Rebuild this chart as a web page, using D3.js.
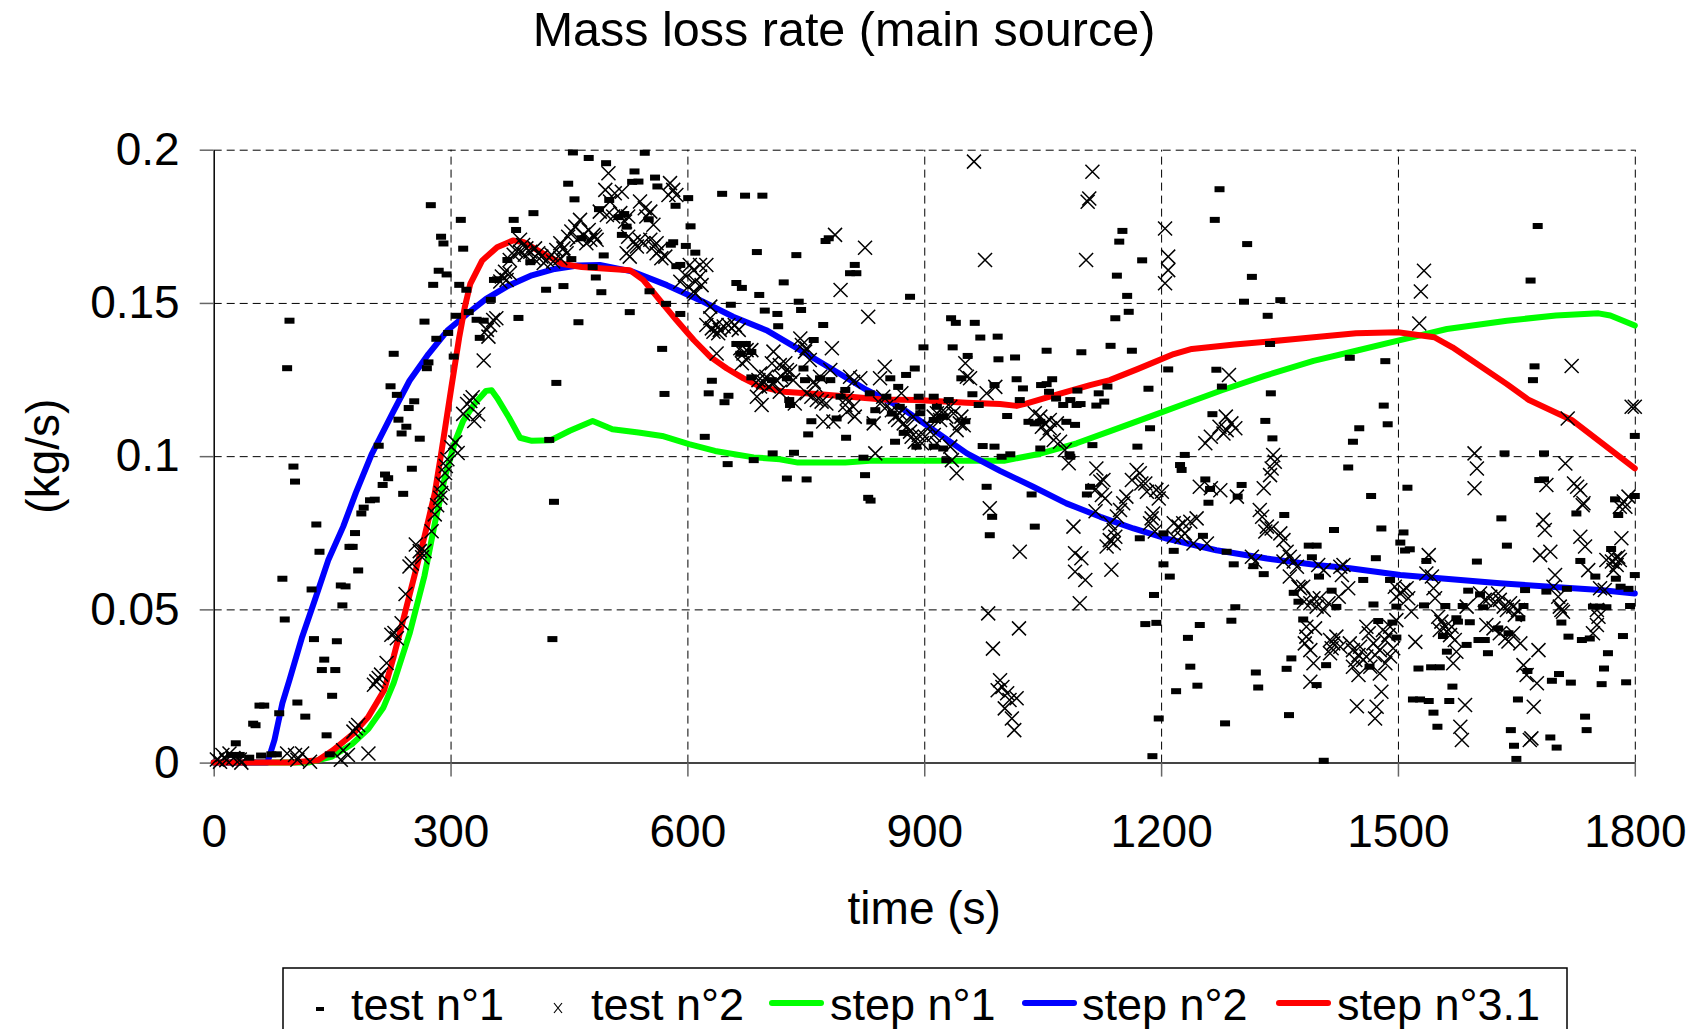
<!DOCTYPE html>
<html>
<head>
<meta charset="utf-8">
<script src="https://cdnjs.cloudflare.com/ajax/libs/d3/7.8.5/d3.min.js"></script>
<style>
  body { margin: 0; background: #fff; }
  text { font-family: "Liberation Sans", Arial, sans-serif; fill: #000; }
</style>
</head>
<body>
<svg id="chart" width="1701" height="1029"></svg>
<script>
// time (s), mass loss rate (kg/s)
const test1 = [
  [22,0.0025],[30,0.0023],[33,0.0025],[45,0.0016],[60,0.0023],[73,0.0027],[80,0.0027],
  [28,0.0063],[50,0.0127],[53,0.0122],[58,0.0186],[64,0.0186],[83,0.0161],[106,0.0196],[116,0.015],
  [90,0.0467],[87,0.06],[101,0.0966],[103,0.0917],[93,0.1287],[96,0.1442],
  [130,0.0777],[134,0.0688],[124,0.0565],[127,0.0403],[140,0.0336],[137,0.0302],[154,0.0302],[150,0.0218],[143,0.0089],[147,0.0027],
  [156,0.0396],[161,0.0578],[167,0.0575],[163,0.0513],[172,0.0704],[176,0.0704],[179,0.0749],[183,0.0627],[187,0.0813],[190,0.0832],
  [198,0.0856],[204,0.0858],[214,0.0906],[217,0.094],[221,0.0928],[240,0.0877],[251,0.0959],
  [275,0.1819],[288,0.1716],[291,0.1694],[285,0.1605],[295,0.1593],[278,0.1559],[267,0.1439],[228,0.1334],[224,0.1228],[232,0.12],
  [254,0.1179],[247,0.1157],[234,0.1119],[244,0.1096],[238,0.1074],[261,0.1057],[209,0.1034],
  [282,0.1383],[272,0.1306],[270,0.1287],[297,0.1402],[304,0.1325],[307,0.1458],[313,0.1771],[316,0.1677],[320,0.1543],[311,0.1559],
  [323,0.147],[333,0.1445],[342,0.1442],[337,0.1386],[351,0.151],[355,0.1575],[359,0.1577],[372,0.164],[380,0.1771],[383,0.1738],
  [405,0.1793],[386,0.1451],[401,0.1633],[421,0.1543],[443,0.1555],[449,0.1889],[455,0.1991],[457,0.1838],[475,0.1973],[480,0.1617],
  [484,0.1583],[491,0.1535],[494,0.1655],[462,0.1437],[497,0.1956],[533,0.1929],[530,0.1895],[538,0.1896],[546,0.199],[559,0.1909],
  [562,0.188],[585,0.1817],[601,0.1842],[604,0.175],[579,0.169],[582,0.1698],[598,0.1686],[610,0.1664],[586,0.162],[552,0.1538],
  [527,0.147],[573,0.1497],[591,0.1464],[568,0.135],[571,0.1203],[627,0.1205],[631,0.1246],[652,0.1197],[647,0.1176],[622,0.1063],
  [651,0.0974],[684,0.0987],[708,0.1009],[688,0.1666],[644,0.1856],[673,0.185],[695,0.185],[662,0.1565],[669,0.1549],[691,0.1526],
  [698,0.1475],[714,0.1464],[674,0.1366],[667,0.1334],[681,0.1257],[655,0.1494],[434,0.1239],[431,0.0851],[425,0.1053],
  [501,0.1836],[488,0.1806],[520,0.179],[513,0.178],[551,0.1773],[517,0.1722],[523,0.1749],[466,0.1711],[453,0.1643],
  [735,0.1011],[726,0.0927],[751,0.0924],[738,0.1656],[591,0.1624],[722,0.1567],[744,0.1477],[741,0.1504],[715,0.1424],[772,0.1428],
  [760,0.1379],[662,0.1366],[681,0.134],[707,0.1248],[726,0.1254],[749,0.1248],[768,0.1254],[781,0.1248],[747,0.1286],[729,0.1183],
  [730,0.1167],[757,0.1114],[789,0.1123],[753,0.1071],[801,0.106],[794,0.1194],[812,0.1624],[814,0.1597],[806,0.1597],[882,0.152],
  [800,0.1216],[831,0.1205],[838,0.115],[833,0.1113],[852,0.1194],[857,0.1254],[867,0.1226],[877,0.1265],[888,0.1286],[863,0.1047],
  [874,0.1076],[859,0.1139],[869,0.1161],[895,0.1161],[895,0.114],[893,0.1194],[912,0.1194],[916,0.1161],[931,0.1183],[924,0.1129],
  [899,0.1355],[934,0.145],[940,0.1435],[964,0.1435],[971,0.1387],[936,0.1355],[993,0.139],[994,0.1316],[947,0.1254],[961,0.1202],
  [969,0.1167],[955,0.1327],[989,0.1232],[890,0.1031],[912,0.1031],[924,0.1025],[974,0.1033],[912,0.1118],[922,0.1129],[928,0.0987],
  [825,0.0938],[429,0.0403],[829,0.0864],[832,0.0855],[823,0.0995],
  [775,0.1702],[779,0.1711],[1015,0.1322],[1151,0.1735],[1147,0.17],[1176,0.1639],[1144,0.1589],[1157,0.1523],[1159,0.1471],[1142,0.145],
  [1274,0.1871],[1268,0.1771],[1309,0.1692],[1315,0.1585],[1305,0.1504],[1351,0.1509],[1335,0.1458],[1677,0.1751],[1668,0.1573],[1136,0.136],
  [1163,0.1344],[1099,0.1339],[1055,0.1344],[1209,0.1283],[1270,0.1282],[1338,0.1366],[1439,0.1321],[1484,0.131],[1673,0.1293],[1671,0.1248],
  [1800,0.1066],[1482,0.1165],[1487,0.1104],[1451,0.1091],[1443,0.1047],[1437,0.0963],[1339,0.1205],[1332,0.1115],[1341,0.1058],[1277,0.1227],
  [1265,0.1137],[1184,0.122],[1170,0.1031],[1186,0.1091],[1132,0.1227],[1121,0.1205],[1098,0.117],[1118,0.1165],[1128,0.1178],[1094,0.1214],
  [1067,0.1188],[1055,0.1235],[1048,0.1232],[1062,0.1251],[1017,0.1251],[1025,0.1221],[1005,0.1131],[1032,0.1112],[1040,0.1107],[1113,0.1036],
  [1084,0.1006],[989,0.1031],[1009,0.1006],[979,0.09],[986,0.0802],[1036,0.0875],[1224,0.0971],[1226,0.0955],[1230,0.1004],[1256,0.0924],
  [1260,0.0848],[1302,0.0906],[1297,0.0868],[1356,0.0808],[1512,0.0897],[1466,0.087],[1631,0.0797],[1800,0.087],[1775,0.0859],[1685,0.0924],
  [1679,0.0922],[1635,0.1009],[1685,0.1009],
  [1058,0.121],[1085,0.1183],[1076,0.1167],[1093,0.1167],[1021,0.1183],[1047,0.1112],[1080,0.1112],[1091,0.1102],[952,0.1114],[998,0.0998],
  [1047,0.1025],[1085,0.0998],[1040,0.077],[983,0.0742],[1110,0.09],[1106,0.0875],[1173,0.0732],[1203,0.0748],[1216,0.0691],[1203,0.0647],
  [1211,0.0607],[1191,0.0547],[1194,0.0456],[1180,0.0452],[1249,0.0449],[1262,0.0893],[1253,0.074],[1283,0.0688],[1292,0.0647],[1317,0.0641],
  [1330,0.0615],[1419,0.0759],[1387,0.0708],[1397,0.0708],[1391,0.067],[1400,0.0607],[1416,0.0561],[1422,0.0508],[1368,0.0554],[1374,0.0525],
  [1294,0.0507],[1289,0.0463],[1380,0.0467],
  [1189,0.0021],[1197,0.0144],[1234,0.0407],[1237,0.0313],[1246,0.0251],[1219,0.0233],[1281,0.0128],[1320,0.0294],[1323,0.0245],[1362,0.0155],
  [1359,0.0306],[1365,0.034],[1406,0.0006],
  [1479,0.0764],[1507,0.0751],[1503,0.0718],[1509,0.0692],[1515,0.0696],[1472,0.0667],[1536,0.0658],[1600,0.0656],[1638,0.0708],[1726,0.0813],
  [1779,0.0808],[1770,0.0697],[1731,0.0658],[1456,0.0596],[1490,0.0596],[1800,0.0612],[1750,0.0607],[1776,0.06],[1782,0.0574],[1792,0.0567],
  [1661,0.0563],[1688,0.0558],[1714,0.0567],[1589,0.0561],[1604,0.0549],[1469,0.0516],[1498,0.0509],[1533,0.0513],[1560,0.0511],[1582,0.0511],
  [1608,0.0507],[1659,0.0511],[1747,0.0509],[1756,0.0509],[1764,0.0507],[1794,0.0511],[1493,0.0457],[1475,0.0462],[1574,0.0471],[1576,0.046],
  [1591,0.0458],[1627,0.0438],[1655,0.0471],[1707,0.0457],[1498,0.0408],[1557,0.0413],[1587,0.0384],[1602,0.04],[1610,0.04],[1640,0.0422],
  [1716,0.0411],[1733,0.04],[1743,0.0405],[1785,0.0413],[1562,0.0362],[1614,0.0357],[1766,0.0357],[1409,0.0318],[1464,0.0313],[1526,0.0307],
  [1542,0.0311],[1553,0.0311],[1664,0.0299],[1695,0.0267],[1704,0.0289],[1719,0.0261],[1761,0.0307],[1758,0.0256],[1789,0.0262],[1397,0.0253],
  [1569,0.0248],[1519,0.0206],[1528,0.0206],[1539,0.0201],[1565,0.0201],[1652,0.0206],[1545,0.0163],[1737,0.015],[1550,0.0117],[1739,0.0106],
  [1643,0.0106],[1647,0.0055],[1693,0.0082],[1701,0.0049],[1650,0.0012]
];

const test2 = [
  [4,0.001],[8,0.0003],[11,0.0025],[16,0.0008],[20,0.003],[25,0.0015],[33,0.001],[35,0],
  [93,0.003],[103,0.0025],[112,0.003],[122,0.0003],[106,0.0009],[164,0.004],[161,0.0009],[170,0.0025],[196,0.003],[177,0.0101],
  [183,0.0123],[180,0.0112],[206,0.0265],[212,0.0287],[209,0.0276],[203,0.0254],[219,0.0325],[225,0.0417],[232,0.0406],[229,0.0423],
  [238,0.0455],[243,0.055],[248,0.064],[251,0.065],[256,0.0712],[261,0.069],[267,0.069],[264,0.067],[276,0.0755],[280,0.081],
  [283,0.084],[287,0.0864],[288,0.088],[290,0.091],[293,0.0945],[294,0.0968],[296,0.099],[309,0.101],[301,0.1029],[306,0.1045],
  [316,0.1138],[321,0.117],[325,0.118],[330,0.1115],[335,0.1137],[328,0.1192],[342,0.1312],
  [500,0.1923],[496,0.1869],[508,0.1858],[517,0.1863],[502,0.1831],[489,0.1798],[498,0.1787],[506,0.1782],[515,0.1793],[521,0.1766],
  [525,0.1782],[540,0.1831],[546,0.1809],[553,0.1798],[548,0.1782],[557,0.1755],[578,0.1891],[582,0.1869],[586,0.1852],[576,0.1852],
  [464,0.1771],[458,0.1749],[453,0.1733],[449,0.1716],[460,0.1706],[468,0.1722],[475,0.1738],[481,0.1722],[485,0.1706],[477,0.1706],
  [472,0.1695],[483,0.1716],[439,0.1695],[443,0.1678],[447,0.1662],[434,0.1673],[428,0.1657],[422,0.164],[439,0.1646],[430,0.1635],
  [388,0.1706],[392,0.1689],[396,0.1678],[401,0.1667],[407,0.1678],[411,0.1662],[415,0.1651],[405,0.1646],[418,0.163],[388,0.1667],
  [394,0.1657],[380,0.1657],[375,0.164],[382,0.1673],[369,0.1602],[365,0.1586],[371,0.1575],[375,0.1597],[363,0.157],[354,0.1444],
  [358,0.145],[350,0.1428],[346,0.1412],[348,0.139],[525,0.1716],[532,0.17],[536,0.1684],[540,0.1706],[544,0.1695],[553,0.1706],
  [557,0.1684],[561,0.1695],[565,0.1673],
  [527,0.1651],[523,0.1662],[567,0.1646],[572,0.1651],[561,0.1662],[603,0.1624],[608,0.1607],[616,0.1624],[624,0.1624],[597,0.1591],
  [591,0.1569],[610,0.1569],[616,0.1586],[618,0.1558],[601,0.1553],[608,0.1537],[610,0.1531],[629,0.1488],[624,0.1428],[631,0.1417],
  [637,0.1428],[641,0.1412],[646,0.1423],[652,0.1428],[656,0.1417],[660,0.1428],[665,0.1412],[633,0.1406],[639,0.1401],[629,0.145],
  [637,0.1335],[667,0.1352],[671,0.1335],[675,0.1346],[681,0.1346],[669,0.1303],[675,0.1314],[692,0.127],[690,0.1248],[696,0.1243],
  [700,0.1259],[703,0.1227],[709,0.1238],[713,0.1248],[707,0.1303],[709,0.1341],[717,0.1297],[724,0.1303],[726,0.1281],[730,0.1276],
  [719,0.1259],[717,0.121],[692,0.1227],[688,0.1194],[694,0.1167],[734,0.1248],[743,0.1384],[745,0.1363],[749,0.1341],[751,0.1352],
  [755,0.1314],[760,0.1243],[762,0.1232],[768,0.1259],[764,0.1183],[770,0.1178],[776,0.1172],[783,0.1352],[781,0.1281],[751,0.1205],
  [757,0.1194],[736,0.1172],[772,0.1113],[785,0.1113],[802,0.1145],[810,0.1161],[812,0.1129],[802,0.1189],[810,0.1243],[819,0.1254],
  [806,0.1259],[800,0.1167],[829,0.1455],[844,0.1254],[850,0.1292],[836,0.1107],[838,0.1009],[844,0.1172],[852,0.1161],[859,0.115],
  [863,0.1129],[867,0.1118],[869,0.114],[874,0.1107],[878,0.1096],[882,0.108],[884,0.1063],[888,0.1047],[893,0.1069],[886,0.1129],
  [871,0.1205],[848,0.1194],[897,0.1042],[901,0.1063],[907,0.1096],[912,0.1129],[916,0.114],[920,0.1118],[924,0.115],[928,0.1129],
  [933,0.1161],[937,0.114],[941,0.1085],[945,0.1107],[950,0.1101],[912,0.1069],[916,0.1042],[933,0.1031],[935,0.0987],[941,0.0944],
  [947,0.1129],[952,0.1303],[958,0.1254],[954,0.1259],[979,0.1205],[990,0.1226],[977,0.164],
  [983,0.083],[1021,0.0688],[1040,0.114],[1047,0.1129],[1053,0.1107],[1059,0.1118],[1049,0.1096],[1059,0.1091],[1055,0.1074],[1068,0.1107],
  [1064,0.1053],[1072,0.1047],[1078,0.102],[1083,0.0977],[1089,0.077],[1091,0.0683],[1099,0.0667],[1091,0.0623],[1104,0.0596],[1097,0.052],
  [1137,0.0629],[1118,0.096],[1123,0.0917],[1125,0.0873],[1116,0.0889],[1129,0.0862],[1127,0.0922],[1135,0.0781],[1140,0.0759],[1142,0.0737],
  [1135,0.0726],[1131,0.0705],[1140,0.0716],[1144,0.0803],[1148,0.0824],[1152,0.0846],[1156,0.0868],[1163,0.0922],[1169,0.0955],[1173,0.0944],
  [1175,0.0911],[1182,0.0884],[1180,0.0911],[1190,0.0813],[1188,0.0797],[1186,0.0781],[1192,0.0754],[1194,0.089],[1201,0.0884],[1197,0.0862],
  [1216,0.0781],[1222,0.077],[1228,0.0781],[1237,0.0786],[1245,0.0797],[1230,0.0748],[1226,0.0737],[1216,0.0737],[1241,0.0715],[1258,0.0715],
  [1249,0.09],[1256,0.1042],[1275,0.0889],[1283,0.1085],[1289,0.1107],[1294,0.1091],[1279,0.1074],[1296,0.0868],[1315,0.0672],[1319,0.0656],
  [1325,0.0824],[1328,0.0802],[1334,0.077],[1332,0.0754],[1340,0.0764],[1351,0.0748],[1355,0.0726],[1359,0.0688],[1363,0.0672],[1368,0.0656],
  [1355,0.0656],[1372,0.0639],[1342,0.1004],[1344,0.0982],[1338,0.0938],[1340,0.096],[1330,0.0895],[1363,0.0607],[1374,0.0574],
  [981,0.0487],[1020,0.0438],[987,0.0372],[996,0.0269],[999,0.0247],[1005,0.0226],[1008,0.0204],[1002,0.0177],[1011,0.0144],[1014,0.0106],
  [993,0.0236],[1017,0.021],[1786,0.0852],
  [787,0.1722],[825,0.168],[794,0.1542],[963,0.1961],[1113,0.1928],[1109,0.1841],[1107,0.183],[1105,0.164],[1205,0.1743],[1209,0.1651],
  [1209,0.1607],[1205,0.1564],[1533,0.1605],[1529,0.1537],[1527,0.1433],[1720,0.1294],[1715,0.1123],[1796,0.1161],[1800,0.1161],[1286,0.1265],
  [1274,0.1096],[1282,0.1129],[1263,0.1063],[1263,0.0895],[1117,0.082],[1597,0.1009],[1600,0.096],[1597,0.0895],[1712,0.0976],[1723,0.0911],
  [1731,0.0889],[1734,0.084],[1727,0.09],[1688,0.0906],[1781,0.0835],[1792,0.0868],
  [1381,0.0525],[1389,0.052],[1397,0.0509],[1406,0.0498],[1412,0.052],[1401,0.0536],[1393,0.0536],
  [1399,0.0645],[1406,0.0628],[1427,0.0639],[1431,0.0645],[1429,0.0612],[1437,0.0569],[1425,0.0541],[1376,0.0569],[1380,0.0574],
  [1384,0.0443],[1395,0.0438],[1382,0.0389],[1389,0.0367],[1393,0.0324],[1389,0.0264],[1384,0.0411],
  [1414,0.04],[1418,0.0389],[1416,0.0373],[1414,0.0357],[1422,0.0411],[1427,0.0378],
  [1439,0.0389],[1443,0.0367],[1450,0.0351],[1456,0.0335],[1460,0.0346],[1452,0.0378],[1446,0.0335],[1463,0.0422],[1469,0.0389],[1471,0.0351],
  [1477,0.0367],[1484,0.04],[1490,0.0443],[1465,0.0313],[1450,0.0286],[1443,0.0313],[1477,0.0291],[1484,0.0324],[1490,0.0346],[1494,0.0373],
  [1488,0.0416],[1481,0.0433],[1460,0.0443],[1479,0.0231],[1448,0.0184],[1473,0.0182],[1471,0.0144],
  [1498,0.0541],[1503,0.0552],[1507,0.0563],[1511,0.0569],[1498,0.0465],[1496,0.0574],[1513,0.0536],[1517,0.0492],[1522,0.0394],
  [1539,0.0677],[1536,0.0617],[1543,0.0607],[1545,0.0569],[1547,0.0536],
  [1551,0.0476],[1555,0.046],[1560,0.0443],[1562,0.0427],[1566,0.0416],[1553,0.0433],[1568,0.0443],[1572,0.04],[1574,0.0362],[1570,0.0324],
  [1585,0.0188],[1579,0.0117],[1581,0.0074],
  [1587,0.0509],[1604,0.0552],[1610,0.0531],[1617,0.0541],[1621,0.052],[1627,0.0552],[1629,0.0531],[1634,0.0509],[1638,0.0498],[1642,0.052],
  [1646,0.0509],[1652,0.0498],[1648,0.0482],[1612,0.0449],[1621,0.0438],[1629,0.0422],[1636,0.0406],[1640,0.0395],[1655,0.0389],[1646,0.0422],
  [1678,0.0367],[1659,0.0318],[1663,0.0286],[1676,0.0259],[1672,0.0182],[1667,0.0074],[1669,0.0079],
  [1680,0.0677],[1686,0.0759],[1684,0.0792],[1693,0.0688],[1699,0.0612],[1703,0.0541],[1705,0.0509],[1707,0.0498],[1697,0.0574],[1709,0.0492],
  [1731,0.0737],[1737,0.0705],[1735,0.0846],[1741,0.0628],[1747,0.0422],[1752,0.0449],[1754,0.0476],[1752,0.0498],[1756,0.0569],[1762,0.0563],
  [1764,0.0661],[1771,0.0656],[1775,0.0667],[1781,0.0661],[1773,0.0628],[1783,0.0732],[1788,0.0835],[1777,0.0645],[1779,0.0672]
];

const step1 = [
  [0,0],[120,0],[150,0.002],[175,0.006],[196,0.011],[215,0.018],[228,0.026],[248,0.042],[267,0.061],[280,0.078],
  [293,0.0933],[306,0.105],[316,0.1115],[330,0.117],[345,0.1213],[352,0.1215],[359,0.119],[374,0.1126],[388,0.106],[403,0.105],
  [427,0.1052],[451,0.1083],[480,0.1115],[505,0.1088],[538,0.1077],[568,0.1066],[602,0.1039],[635,0.1017],[684,0.0996],[717,0.099],
  [740,0.0979],[800,0.0979],[831,0.0985],[908,0.0985],[1001,0.0985],[1047,0.1008],[1093,0.1042],[1139,0.1085],[1185,0.1128],[1231,0.1172],
  [1277,0.1215],[1331,0.1262],[1393,0.1311],[1447,0.1344],[1500,0.1377],[1562,0.1415],[1638,0.1442],[1700,0.1459],[1754,0.1466],[1769,0.1459],
  [1800,0.1426]
];

const step2 = [
  [0,0],[68,0],[77,0.0074],[87,0.0194],[96,0.027],[112,0.041],[128,0.053],[145,0.066],[164,0.077],[180,0.088],
  [200,0.1006],[228,0.1148],[248,0.1246],[272,0.1333],[296,0.141],[321,0.1464],[345,0.1513],[374,0.1557],[403,0.159],[432,0.1611],
  [461,0.1622],[489,0.1624],[531,0.1602],[574,0.1558],[616,0.1509],[658,0.1455],[700,0.1411],[743,0.1346],[785,0.1281],[827,0.1216],
  [869,0.1161],[912,0.1085],[954,0.1009],[996,0.0952],[1038,0.09],[1080,0.0846],[1123,0.0802],[1165,0.0764],[1207,0.0731],[1270,0.0693],
  [1334,0.0666],[1397,0.0645],[1439,0.0634],[1503,0.0612],[1629,0.0585],[1756,0.0563],[1800,0.0552]
];

const step31 = [
  [0,0],[100,0],[132,0.0008],[151,0.004],[177,0.0095],[196,0.015],[216,0.0237],[228,0.0346],[241,0.0476],[254,0.0607],
  [267,0.0738],[280,0.0879],[288,0.1006],[301,0.1224],[311,0.1388],[318,0.1486],[325,0.1562],[340,0.1638],[359,0.1682],[379,0.1704],
  [393,0.1698],[418,0.166],[442,0.1627],[466,0.1617],[489,0.1613],[527,0.1607],[544,0.1575],[565,0.1509],[586,0.1444],[608,0.1379],
  [629,0.1324],[650,0.1286],[671,0.1254],[692,0.1227],[722,0.121],[764,0.1203],[806,0.1194],[848,0.1185],[890,0.1183],[954,0.1174],
  [996,0.117],[1017,0.1164],[1030,0.1172],[1059,0.1194],[1080,0.121],[1110,0.1232],[1135,0.1248],[1170,0.1284],[1216,0.1333],[1239,0.135],
  [1293,0.1364],[1370,0.1382],[1447,0.1401],[1500,0.1404],[1546,0.1388],[1569,0.1355],[1638,0.1235],[1666,0.1183],[1720,0.1118],[1800,0.096]
];

const xTicks = [0, 300, 600, 900, 1200, 1500, 1800];
const yTicks = [0, 0.05, 0.1, 0.15, 0.2];
const yTickLabels = ["0", "0.05", "0.1", "0.15", "0.2"];
const seriesNames = ["test n°1", "test n°2", "step n°1", "step n°2", "step n°3.1"];

const svg = d3.select("#chart");
const plotL = 213.7, plotR = 1634.8, plotT = 149.7, plotB = 762.6;
const fontSize = 46;

const x = d3.scaleLinear().domain([0, 1800]).range([plotL, plotR]);
const y = d3.scaleLinear().domain([0, 0.2]).range([plotB, plotT]);

// dashed grid
svg.append("g")
  .attr("transform", "translate(0," + plotB + ")")
  .call(d3.axisBottom(x).tickValues(xTicks.slice(1)).tickSize(-(plotB - plotT)).tickFormat(""))
  .call(g => g.select(".domain").remove())
  .selectAll("line")
  .attr("stroke", "#000").attr("stroke-width", 1).attr("stroke-dasharray", "8,5");
svg.append("g")
  .attr("transform", "translate(" + plotL + ",0)")
  .call(d3.axisLeft(y).tickValues(yTicks.slice(1)).tickSize(-(plotR - plotL)).tickFormat(""))
  .call(g => g.select(".domain").remove())
  .selectAll("line")
  .attr("stroke", "#000").attr("stroke-width", 1).attr("stroke-dasharray", "8,5");

// axes
const xAxis = svg.append("g")
  .attr("transform", "translate(0," + plotB + ")")
  .call(d3.axisBottom(x).tickValues(xTicks).tickSize(14).tickSizeOuter(0).tickPadding(38).tickFormat(d3.format("d")));
xAxis.select(".domain").attr("stroke", "#444").attr("stroke-width", 2);
xAxis.selectAll(".tick line").attr("stroke", "#666").attr("stroke-width", 1.5);
xAxis.selectAll("text").attr("font-size", fontSize).attr("font-family", "Liberation Sans, Arial, sans-serif");

const yAxis = svg.append("g")
  .attr("transform", "translate(" + plotL + ",0)")
  .call(d3.axisLeft(y).tickValues(yTicks).tickSize(14).tickSizeOuter(0).tickPadding(20)
    .tickFormat((d, i) => yTickLabels[i]));
yAxis.select(".domain").attr("stroke", "#000").attr("stroke-width", 1.5);
yAxis.selectAll(".tick line").attr("stroke", "#666").attr("stroke-width", 1.5);
yAxis.selectAll("text").attr("font-size", fontSize).attr("font-family", "Liberation Sans, Arial, sans-serif");

// model curves
const line = d3.line().x(d => x(d[0])).y(d => y(d[1]));
const curves = [
  { data: step1, color: "#00ff00" },
  { data: step2, color: "#0000ff" },
  { data: step31, color: "#ff0000" }
];
curves.forEach(c => {
  svg.append("path")
    .datum(c.data)
    .attr("d", line)
    .attr("fill", "none")
    .attr("stroke", c.color)
    .attr("stroke-width", 6)
    .attr("stroke-linejoin", "round")
    .attr("stroke-linecap", "round");
});

// measured points
svg.append("g").selectAll("rect").data(test1).enter().append("rect")
  .attr("x", d => x(d[0]) - 5)
  .attr("y", d => y(d[1]) - 3)
  .attr("width", 10)
  .attr("height", 6)
  .attr("fill", "#000");

const cross = "M-7,-7L7,7M7,-7L-7,7";
svg.append("g").selectAll("path").data(test2).enter().append("path")
  .attr("transform", d => "translate(" + x(d[0]) + "," + y(d[1]) + ")")
  .attr("d", cross)
  .attr("stroke", "#000")
  .attr("stroke-width", 1.5)
  .attr("fill", "none");

// titles
svg.append("text")
  .attr("x", 844).attr("y", 46)
  .attr("text-anchor", "middle")
  .attr("font-size", 48.5)
  .text("Mass loss rate (main source)");
svg.append("text")
  .attr("x", (plotL + plotR) / 2).attr("y", 924)
  .attr("text-anchor", "middle")
  .attr("font-size", fontSize)
  .text("time (s)");
svg.append("text")
  .attr("transform", "translate(43," + (plotT + plotB) / 2 + ") rotate(-90)")
  .attr("text-anchor", "middle")
  .attr("dominant-baseline", "central")
  .attr("font-size", fontSize)
  .text("(kg/s)");

// legend
const legend = svg.append("g");
legend.append("rect")
  .attr("x", 283).attr("y", 968)
  .attr("width", 1284).attr("height", 100)
  .attr("fill", "#fff")
  .attr("stroke", "#000")
  .attr("stroke-width", 1.5);

const legendY = 1003;
const legendItems = [
  { kind: "rect", mx: 320, tx: 351 },
  { kind: "cross", mx: 558, tx: 591 },
  { kind: "line", color: "#00ff00", mx: 772, tx: 830 },
  { kind: "line", color: "#0000ff", mx: 1025, tx: 1082 },
  { kind: "line", color: "#ff0000", mx: 1279, tx: 1337 }
];
legendItems.forEach((it, i) => {
  if (it.kind === "rect") {
    legend.append("rect").attr("x", it.mx - 4).attr("y", legendY + 4)
      .attr("width", 8).attr("height", 4).attr("fill", "#000");
  } else if (it.kind === "cross") {
    legend.append("path").attr("d", "M-4,-5L4,5M4,-5L-4,5")
      .attr("transform", "translate(" + it.mx + "," + (legendY + 5) + ")")
      .attr("stroke", "#000").attr("stroke-width", 1.2);
  } else {
    legend.append("line")
      .attr("x1", it.mx).attr("x2", it.mx + 49)
      .attr("y1", legendY).attr("y2", legendY)
      .attr("stroke", it.color).attr("stroke-width", 6).attr("stroke-linecap", "round");
  }
  legend.append("text")
    .attr("x", it.tx).attr("y", 1020)
    .attr("font-size", 45)
    .text(seriesNames[i]);
});
</script>
</body>
</html>
